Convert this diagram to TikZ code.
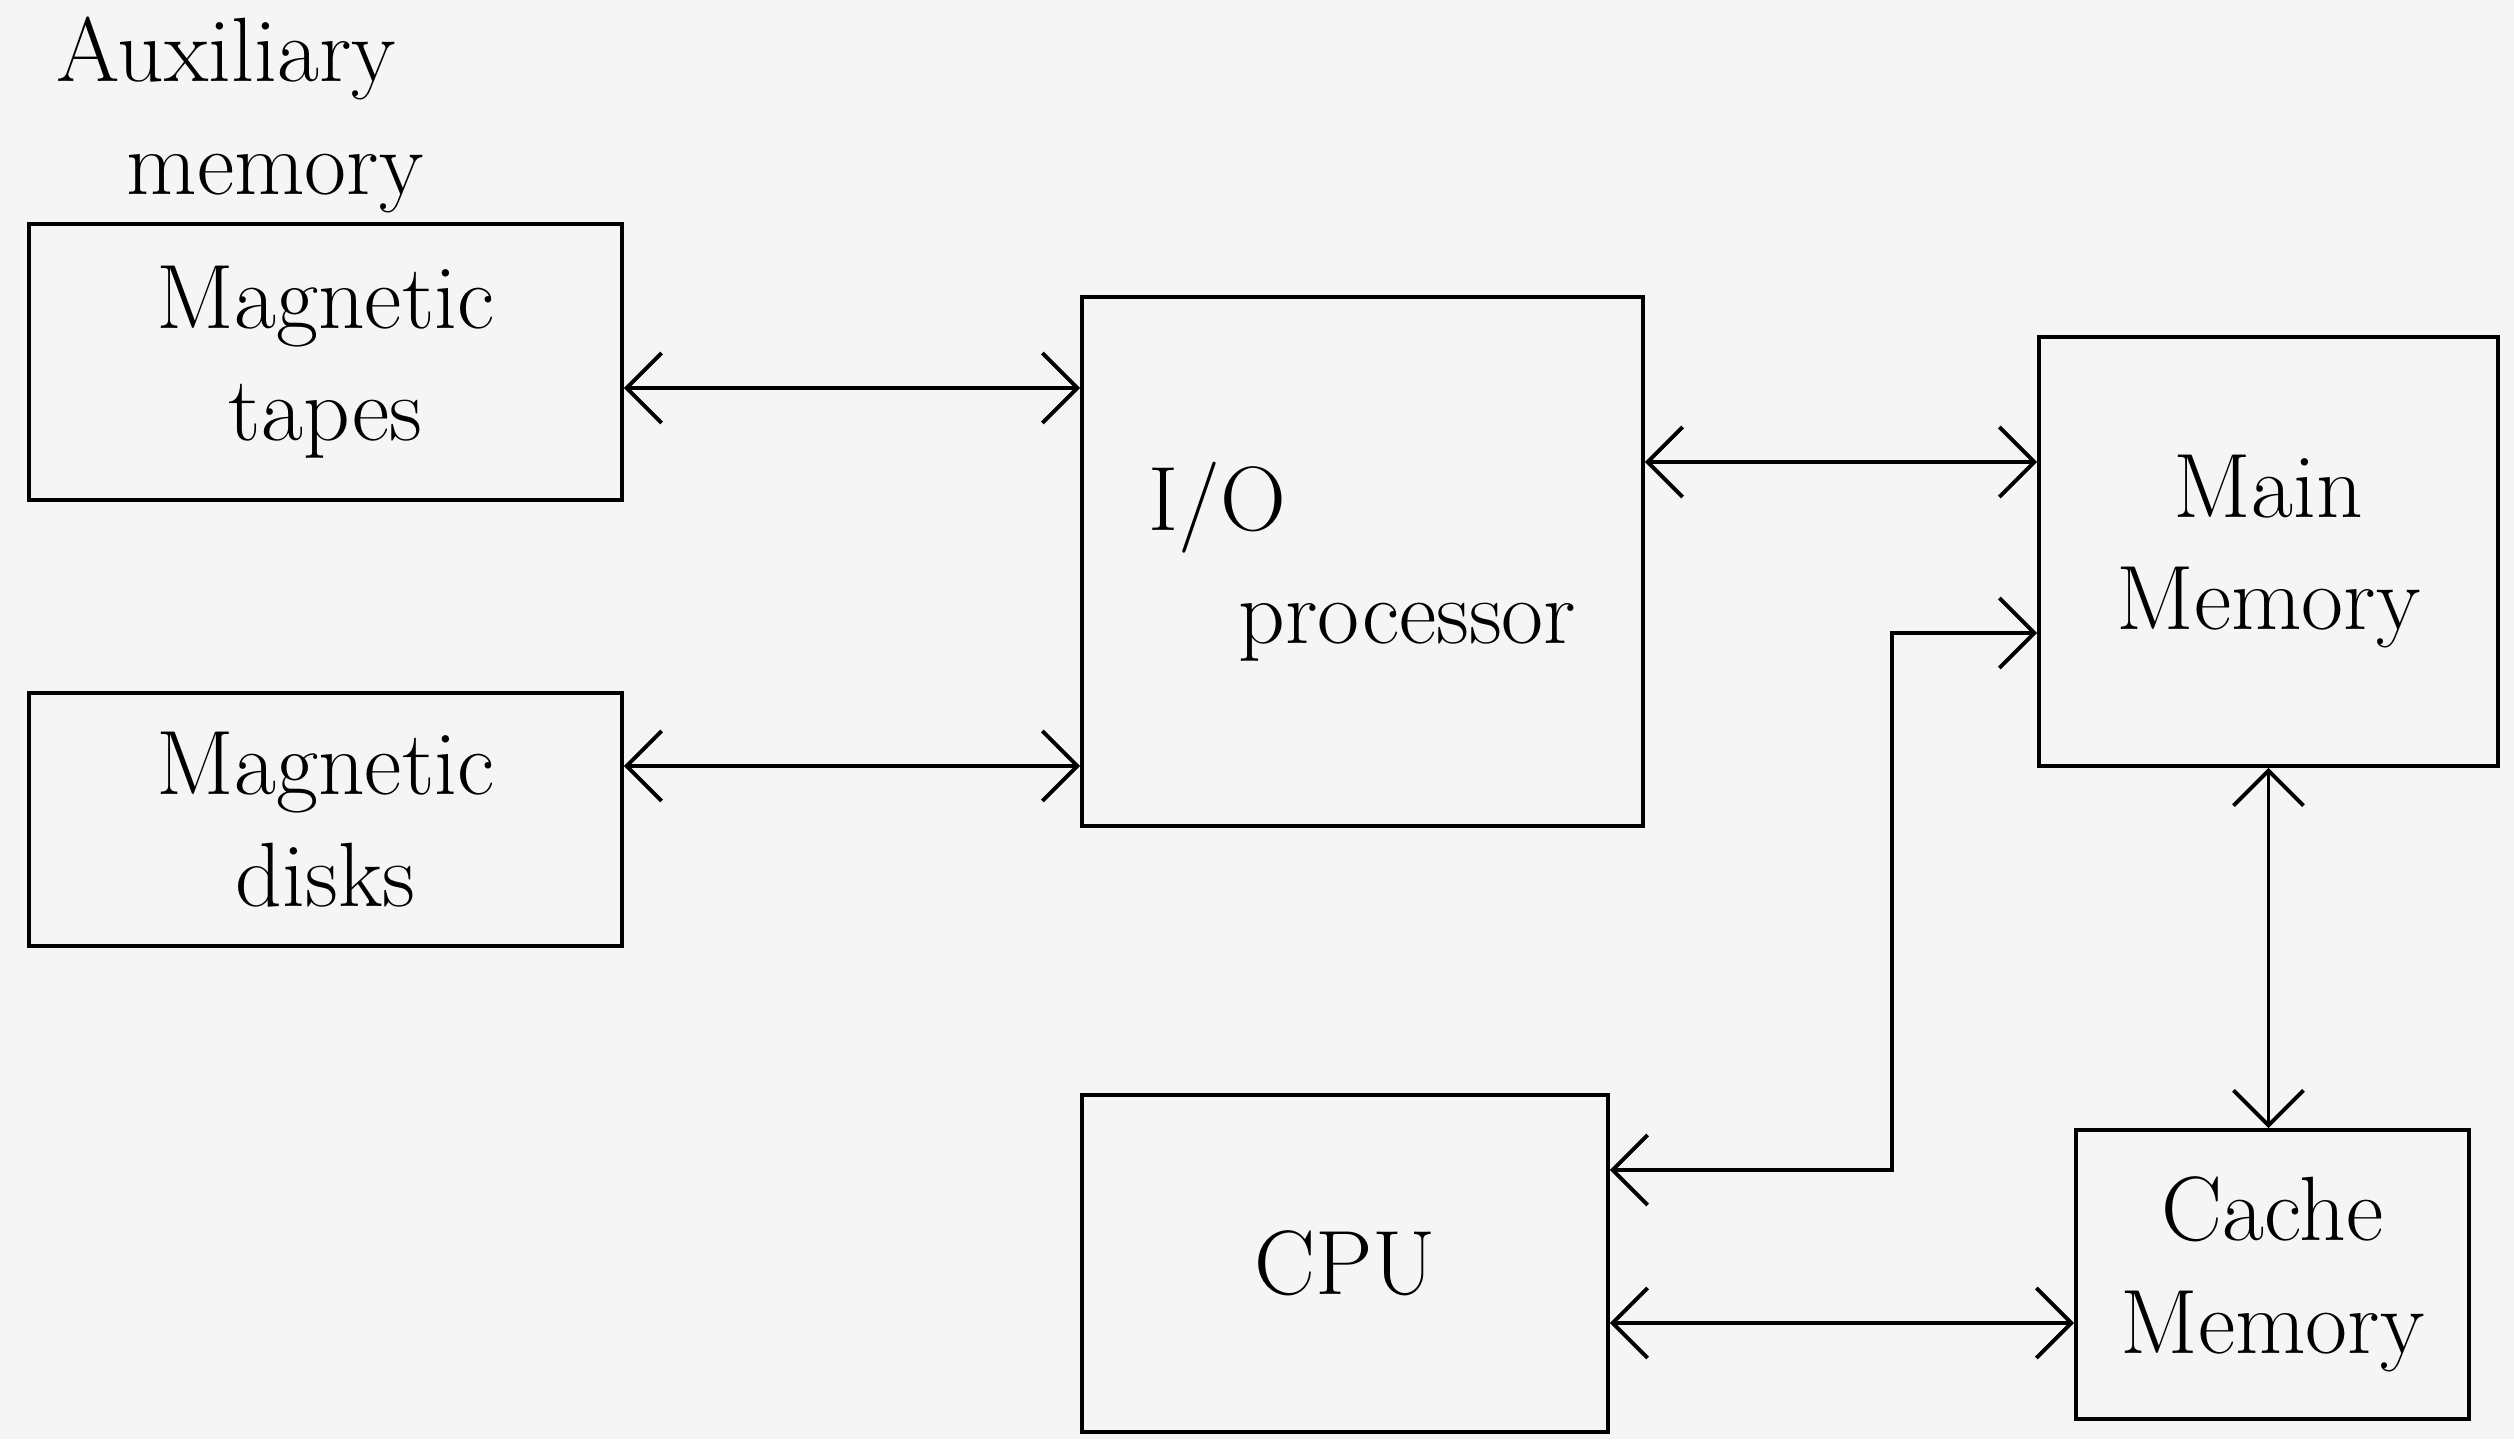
\documentclass[tikz,border=0pt]{standalone}
\usetikzlibrary{arrows.meta}
\begin{document}
\begin{tikzpicture}[
  box/.style={draw, line width=1.1pt, align=center, inner sep=0pt, font=\fontsize{26}{32}\selectfont},
  link/.style={line width=1.1pt, {Straight Barb[length=3.5mm,width=7mm]}-{Straight Barb[length=3.5mm,width=7mm]}},
  every node/.style={font=\fontsize{26}{32}\selectfont}]

% Paper
\fill[black!4] (0,0) rectangle (25.14,-14.39);
\useasboundingbox (0,0) rectangle (25.14,-14.39);

% Heading
\node[align=left] (aux) at (2.4,-1.15) {Auxiliary\\\hspace{0.7cm}memory};

% Left boxes
\node[box, minimum width=5.93cm, minimum height=2.76cm] (tapes) at (3.255,-3.62) {Magnetic\\tapes};
\node[box, minimum width=5.93cm, minimum height=2.53cm] (disks) at (3.255,-8.195) {Magnetic\\disks};

% Middle boxes
\node[box, align=left, minimum width=5.61cm, minimum height=5.29cm] (io) at (13.625,-5.615) {I/O\\\hspace{0.9cm}processor};
\node[box, minimum width=5.26cm, minimum height=3.37cm] (cpu) at (13.45,-12.635) {CPU};

% Right boxes
\node[box, minimum width=4.59cm, minimum height=4.29cm] (main) at (22.685,-5.515) {Main\\Memory};
\node[box, minimum width=3.93cm, minimum height=2.89cm] (cache) at (22.725,-12.745) {Cache\\Memory};

% Bend of the CPU - main memory line
\coordinate (bend) at (18.92,-9);

% Connectors
\draw[link] ([yshift=-2.6mm]tapes.east) -- ([yshift=-2.6mm]tapes.east -| io.west);
\draw[link] ([yshift=5.35mm]disks.east) -- ([yshift=5.35mm]disks.east -| io.west);
\draw[link] ([yshift=9.95mm]io.east) -- ([yshift=9.95mm]io.east -| main.west);
\draw[link] ([yshift=9.35mm]cpu.east) -| (bend) |- ([yshift=-8.15mm]main.west);
\draw[link] (main.south) -- (main.south |- cache.north);
\draw[link] ([yshift=-5.95mm]cpu.east) -- ([yshift=-5.95mm]cpu.east -| cache.west);

\end{tikzpicture}
\end{document}
